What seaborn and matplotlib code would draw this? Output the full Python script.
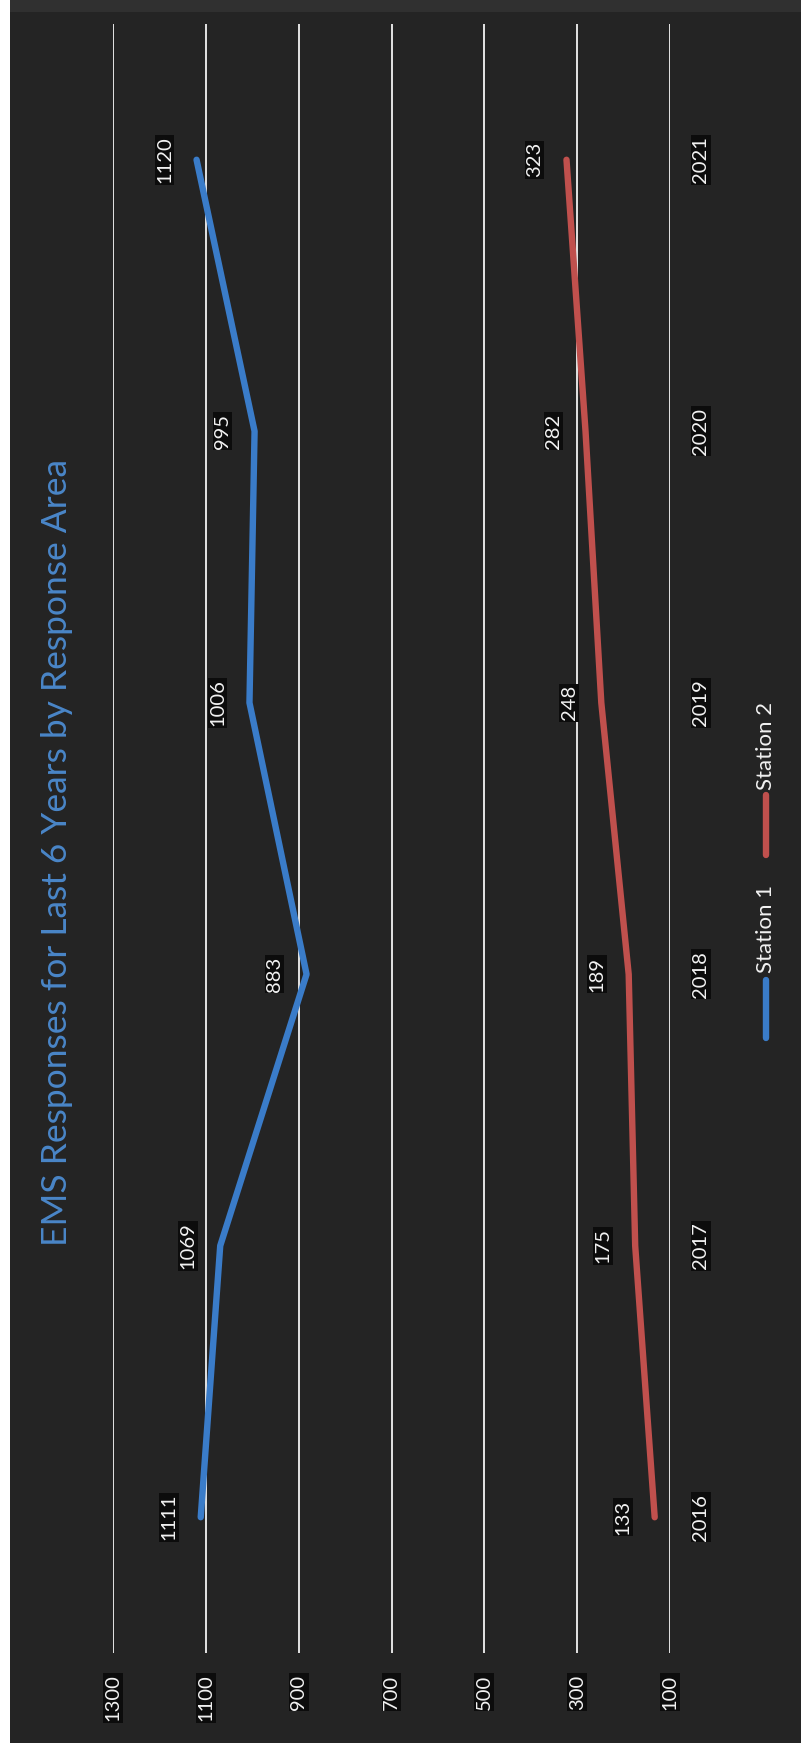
import numpy as np
import pandas as pd
import matplotlib
matplotlib.use("Agg")
import matplotlib.pyplot as plt
from matplotlib.patches import Rectangle
from matplotlib.lines import Line2D
import seaborn as sns

# ---- data ----
years = [2016, 2017, 2018, 2019, 2020, 2021]
station1 = [1111, 1069, 883, 1006, 995, 1120]
station2 = [133, 175, 189, 248, 282, 323]
series_names = ["Station 1", "Station 2"]
value_ticks = [100, 300, 500, 700, 900, 1100, 1300]
title_text = "EMS Responses for Last 6 Years by Response Area"

df = pd.DataFrame({
    "year": years * 2,
    "responses": station1 + station2,
    "station": [series_names[0]] * len(years) + [series_names[1]] * len(years),
})

# ---- style ----
BG = "#242424"
BLUE = "#3a7cc9"
RED = "#c0504d"
TITLE_BLUE = "#4a86c8"
TXT = "#f2f2f2"
FONT = ["Lato", "DejaVu Sans"]

sns.set_style("dark")
plt.rcParams["font.family"] = FONT

W, H = 801, 1750
fig = plt.figure(figsize=(W / 100, H / 100), dpi=100)
fig.patch.set_facecolor("white")
# dark scanned page area
fig.add_artist(Rectangle((10 / W, (H - 1743) / H), (W - 10) / W, 1743 / H,
                         transform=fig.transFigure, facecolor=BG, edgecolor="none", zorder=-10))
fig.add_artist(Rectangle((10 / W, (H - 12) / H), (W - 10) / W, 12 / H,
                         transform=fig.transFigure, facecolor="#303030", edgecolor="none", zorder=-9))

left, right = 113 / W, 670 / W
bottom, top = (H - 1653) / H, (H - 24) / H
ax = fig.add_axes([left, bottom, right - left, top - bottom])
ax.set_facecolor(BG)

sns.lineplot(data=df, x="responses", y="year", hue="station", orient="y",
             palette=[BLUE, RED], linewidth=4.6, legend=False, ax=ax, zorder=3)

ax.set_xlim(1300, 100)
ax.set_ylim(2015.5, 2021.5)
ax.set_xticks(value_ticks)
ax.set_xticklabels([str(v) for v in value_ticks])
ax.set_yticks(years)
ax.set_yticklabels([str(y) for y in years])
ax.set_xlabel("")
ax.set_ylabel("")

ax.grid(axis="x", color="#e4e4e4", linewidth=1.4)
ax.grid(axis="y", visible=False)
for s in ax.spines.values():
    s.set_visible(False)

ax.tick_params(axis="x", length=0, pad=15.5, labelsize=14.5, labelcolor=TXT, labelrotation=90)
ax.tick_params(axis="y", length=0, pad=16, labelsize=14.5, labelcolor=TXT,
               labelleft=False, labelright=True, labelrotation=90)
for lab in ax.get_yticklabels():
    lab.set_va("center")
for lab in ax.get_xticklabels() + ax.get_yticklabels():
    lab.set_bbox(dict(facecolor="#0c0c0c", edgecolor="none", pad=1.0))

# data labels ("above" the points in the original orientation -> left here)
for vals in (station1, station2):
    for yr, v in zip(years, vals):
        ax.annotate(str(v), xy=(v, yr), xytext=(-32, 0), textcoords="offset pixels",
                    rotation=90, ha="center", va="center", fontsize=14.5, color=TXT,
                    bbox=dict(facecolor="#0c0c0c", edgecolor="none", pad=1.0), zorder=5)

# title (rotated)
fig.text(57 / W, (H - 852) / H, title_text, rotation=90, ha="center", va="center",
         fontsize=25.5, color=TITLE_BLUE)

# legend (rotated, drawn manually)
leg_x = 766 / W
fig.add_artist(Line2D([leg_x, leg_x], [(H - 1038) / H, (H - 980) / H],
                      transform=fig.transFigure, color=BLUE, linewidth=4.6, solid_capstyle="round"))
fig.text(leg_x, (H - 929) / H, series_names[0], rotation=90, ha="center", va="center",
         fontsize=16, color=TXT)
fig.add_artist(Line2D([leg_x, leg_x], [(H - 855) / H, (H - 795) / H],
                      transform=fig.transFigure, color=RED, linewidth=4.6, solid_capstyle="round"))
fig.text(leg_x, (H - 746) / H, series_names[1], rotation=90, ha="center", va="center",
         fontsize=16, color=TXT)

fig.savefig("out.png", dpi=100, facecolor=fig.get_facecolor())
